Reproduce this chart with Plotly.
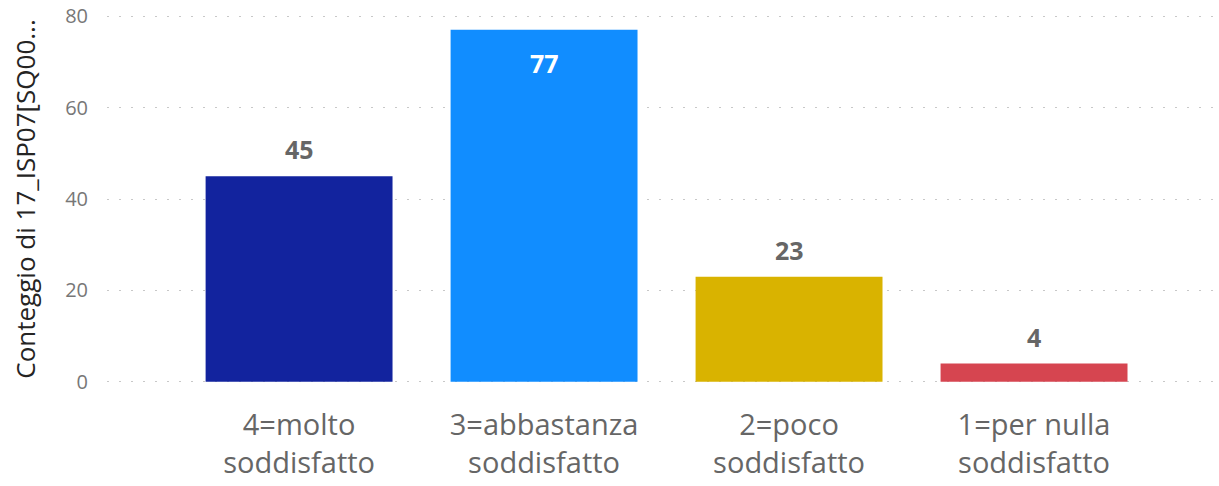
import plotly.graph_objects as go

categories = ["4=molto<br>soddisfatto", "3=abbastanza<br>soddisfatto", "2=poco<br>soddisfatto", "1=per nulla<br>soddisfatto"]
counts = [45, 77, 23, 4]
bar_colors = ["#12239E", "#118DFF", "#D9B300", "#D64550"]
y_ticks = [0, 20, 40, 60, 80]

font_family = "Segoe UI, Open Sans, sans-serif"

fig = go.Figure()

fig.add_trace(
    go.Bar(
        x=categories,
        y=counts,
        marker={"color": bar_colors, "line": {"width": 0}},
        showlegend=False,
        hoverinfo="skip",
    )
)

# data labels: inside the bar when it reaches the top of the axis
for cat, val in zip(categories, counts):
    inside = val > 70
    fig.add_annotation(
        x=cat,
        y=val,
        text=f"<b>{val}</b>",
        showarrow=False,
        yanchor="top" if inside else "bottom",
        yshift=-14 if inside else 8,
        font={"family": font_family, "size": 25, "color": "white" if inside else "#666666"},
    )

fig.update_xaxes(
    range=[-0.784, 3.755],
    showgrid=False,
    showline=False,
    zeroline=False,
    automargin=False,
    tickfont={"family": font_family, "size": 29, "color": "#666666"},
    ticklabelstandoff=22,
)
fig.update_yaxes(
    range=[-0.25, 80.25],
    tickvals=y_ticks,
    showgrid=True,
    gridcolor="#C8C8C8",
    griddash="2px,10px",
    gridwidth=1,
    zeroline=False,
    showline=False,
    automargin=False,
    ticklabeloverflow="allow",
    tickfont={"family": font_family, "size": 20, "color": "#777777"},
    ticklabelstandoff=18,
    title={
        "text": "Conteggio di 17_ISP07[SQ00...",
        "font": {"family": font_family, "size": 26, "color": "#252423"},
        "standoff": 22,
    },
)

fig.update_layout(
    width=1219,
    height=486,
    bargap=0.237,
    plot_bgcolor="white",
    paper_bgcolor="white",
    margin={"l": 107, "r": 0, "t": 15, "b": 103},
)

# drop the default 8px body margin so the figure sits at the window corner
fig.write_html(
    "out.html",
    config={"displayModeBar": False},
    post_script="document.body.style.margin='0';",
)
